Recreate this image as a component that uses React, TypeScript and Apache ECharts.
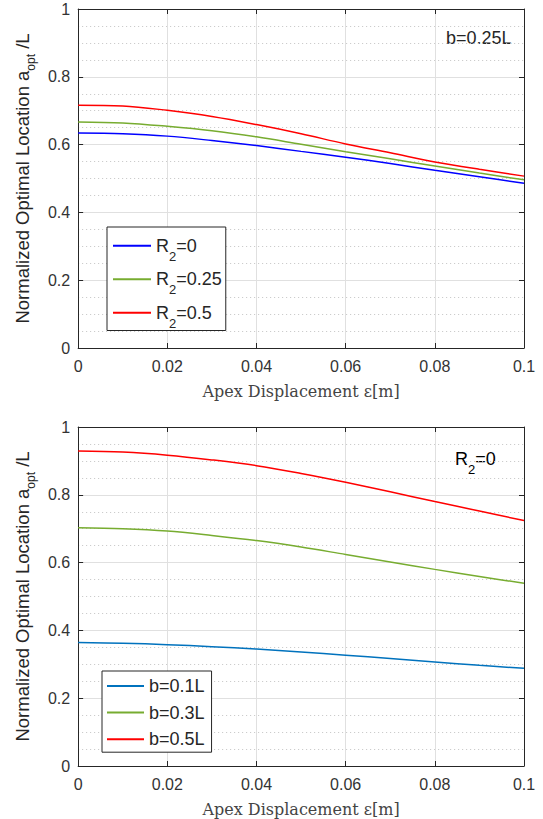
import React, { useEffect, useRef } from "react";
import * as echarts from "echarts";

const eps = [0, 0.01, 0.02, 0.03, 0.04, 0.05, 0.06, 0.07, 0.08, 0.09, 0.1];

// Top panel (b = 0.25L)
const topNames = ["R2=0", "R2=0.25", "R2=0.5"];
const topR2_0 = [0.634, 0.632, 0.625, 0.612, 0.597, 0.58, 0.563, 0.544, 0.524, 0.505, 0.486];
const topR2_025 = [0.667, 0.664, 0.654, 0.641, 0.623, 0.601, 0.579, 0.558, 0.537, 0.516, 0.496];
const topR2_05 = [0.716, 0.714, 0.701, 0.683, 0.659, 0.632, 0.602, 0.576, 0.549, 0.527, 0.507];

// Bottom panel (R2 = 0)
const botNames = ["b=0.1L", "b=0.3L", "b=0.5L"];
const botB01 = [0.364, 0.362, 0.358, 0.352, 0.345, 0.336, 0.327, 0.317, 0.307, 0.297, 0.288];
const botB03 = [0.703, 0.7, 0.693, 0.68, 0.665, 0.646, 0.624, 0.602, 0.58, 0.559, 0.539];
const botB05 = [0.929, 0.926, 0.917, 0.903, 0.886, 0.863, 0.837, 0.809, 0.78, 0.752, 0.724];

const xTicks = { min: 0, max: 0.1, interval: 0.02 };
const yTicks = { min: 0, max: 1, interval: 0.2 };

const AX = "#262626";
const FONT = "'Liberation Sans', Arial, sans-serif";

const pairs = (ys: number[]) => ys.map((y, i) => [eps[i], y]);

const subRich = (size: number, subSize: number, lh: number, off: number) => ({
  m: { fontSize: size, lineHeight: lh, verticalAlign: "middle", fontFamily: FONT, color: AX },
  s: {
    fontSize: subSize,
    lineHeight: subSize,
    verticalAlign: "middle",
    padding: [off * 2, 0, 0, 0],
    fontFamily: FONT,
    color: AX,
  },
});

const r2Label = (name: string) => {
  const rest = name.replace(/^R2/, "");
  return `{m|R}{s|2}{m|${rest}}`;
};

export default function App() {
  const ref = useRef<HTMLDivElement>(null);
  useEffect(() => {
    if (!ref.current) return;
    const chart = echarts.init(ref.current, undefined, { renderer: "svg" });

    const grids = [
      { left: 78, top: 9, width: 446, height: 339 },
      { left: 78, top: 427, width: 446, height: 339 },
    ];

    const mainX = (gi: number) => ({
      type: "value",
      gridIndex: gi,
      position: "bottom",
      ...xTicks,
      axisLine: { show: true, onZero: false, lineStyle: { color: AX, width: 1 } },
      axisTick: { show: true, inside: true, length: 5, lineStyle: { color: AX } },
      axisLabel: {
        margin: 10,
        fontSize: 16,
        fontFamily: FONT,
        color: "#333",
      },
      splitLine: { show: true, lineStyle: { color: "#e0e0e0", width: 1 } },
      name: "Apex Displacement \u03b5[m]",
      nameLocation: "middle",
      nameGap: 35,
      nameTextStyle: { fontFamily: "'DejaVu Serif', 'Liberation Serif', serif", fontSize: 16, color: "#444" },
    });
    const topX = (gi: number) => ({
      type: "value",
      gridIndex: gi,
      position: "top",
      ...xTicks,
      axisLine: { show: true, onZero: false, lineStyle: { color: AX, width: 1 } },
      axisTick: { show: true, inside: true, length: 5, lineStyle: { color: AX } },
      axisLabel: { show: false },
      splitLine: { show: false },
    });
    const mainY = (gi: number) => ({
      type: "value",
      gridIndex: gi,
      position: "left",
      ...yTicks,
      axisLine: { show: true, onZero: false, lineStyle: { color: AX, width: 1 } },
      axisTick: { show: true, inside: true, length: 5, lineStyle: { color: AX } },
      axisLabel: { margin: 8, fontSize: 16, fontFamily: FONT, color: "#333" },
      splitLine: { show: true, lineStyle: { color: "#e0e0e0", width: 1 } },
      minorTick: { show: false, splitNumber: 4 },
      minorSplitLine: { show: true, lineStyle: { color: "#c4c4c4", width: 1, type: [1, 3] } },
      name: "{m|Normalized Optimal Location a}{s|opt}{m| /L}",
      nameLocation: "middle",
      nameGap: 38,
      nameTextStyle: { rich: subRich(18.5, 12, 20, 8.5) },
    });
    const rightY = (gi: number) => ({
      type: "value",
      gridIndex: gi,
      position: "right",
      ...yTicks,
      axisLine: { show: true, onZero: false, lineStyle: { color: AX, width: 1 } },
      axisTick: { show: true, inside: true, length: 5, lineStyle: { color: AX } },
      axisLabel: { show: false },
      splitLine: { show: false },
    });

    const line = (name: string, data: number[], color: string, xi: number, yi: number) => ({
      type: "line",
      name,
      data: pairs(data),
      xAxisIndex: xi,
      yAxisIndex: yi,
      smooth: 0.35,
      symbol: "none",
      showSymbol: false,
      lineStyle: { color, width: 1.5 },
      itemStyle: { color },
      z: 5,
    });

    chart.setOption({
      animation: false,
      backgroundColor: "#fff",
      grid: grids,
      xAxis: [mainX(0), topX(0), mainX(1), topX(1)],
      yAxis: [mainY(0), rightY(0), mainY(1), rightY(1)],
      legend: [
        {
          data: topNames,
          orient: "vertical",
          left: 107,
          top: 227,
          padding: [2, 4, 1, 5],
          itemGap: 0,
          itemWidth: 38,
          itemHeight: 1,
          borderColor: AX,
          borderWidth: 1,
          backgroundColor: "#fff",
          selectedMode: false,
          formatter: (n: string) => r2Label(n),
          textStyle: { rich: subRich(18, 13, 20, 10.25) },
        },
        {
          data: botNames,
          orient: "vertical",
          left: 102,
          top: 671,
          padding: [5, 7, 3, 4],
          itemGap: 6.6,
          itemWidth: 37,
          itemHeight: 1,
          borderColor: AX,
          borderWidth: 1,
          backgroundColor: "#fff",
          selectedMode: false,
          textStyle: { fontSize: 18, lineHeight: 20, fontFamily: FONT, color: AX },
        },
      ],
      graphic: [
        {
          type: "text",
          left: 446,
          top: 29,
          style: { text: "b=0.25L", fontSize: 18, fontFamily: FONT, fill: AX },
        },
        {
          type: "text",
          x: 455,
          y: 459,
          style: {
            text: "{m|R}{s|2}{m|=0}",
            verticalAlign: "middle",
            align: "left",
            rich: subRich(18, 13, 20, 10.25),
          },
        },
      ],
      series: [
        line(topNames[0], topR2_0, "#0000ff", 0, 0),
        line(topNames[1], topR2_025, "#77ac30", 0, 0),
        line(topNames[2], topR2_05, "#ff0000", 0, 0),
        line(botNames[0], botB01, "#0072bd", 2, 2),
        line(botNames[1], botB03, "#77ac30", 2, 2),
        line(botNames[2], botB05, "#ff0000", 2, 2),
      ],
    });
    return () => chart.dispose();
  }, []);
  return (
    <div
      ref={ref}
      style={{ position: "fixed", left: 0, top: 0, width: 543, height: 819, background: "#fff" }}
    />
  );
}
